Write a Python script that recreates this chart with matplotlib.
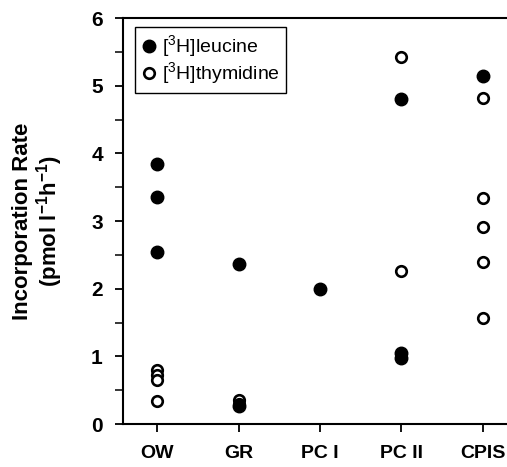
import matplotlib
matplotlib.use("Agg")
import matplotlib.pyplot as plt
from matplotlib.ticker import MultipleLocator

plt.rcParams["font.family"] = ["Liberation Sans", "DejaVu Sans"]
plt.rcParams["mathtext.fontset"] = "custom"
plt.rcParams["mathtext.rm"] = "Liberation Sans"
plt.rcParams["mathtext.bf"] = "Liberation Sans:bold"

sites = ["OW", "GR", "PC I", "PC II", "CPIS"]

# values per site
leucine = {
    "OW": [3.84, 3.35, 2.54],
    "GR": [2.36, 0.26],
    "PC I": [2.0],
    "PC II": [4.80, 1.05, 0.98],
    "CPIS": [5.15],
}
thymidine = {
    "OW": [0.80, 0.72, 0.65, 0.34],
    "GR": [0.35, 0.30],
    "PC I": [],
    "PC II": [5.43, 2.26],
    "CPIS": [4.82, 3.34, 2.91, 2.40, 1.57],
}

fig = plt.figure(figsize=(5.07, 4.67), dpi=100)
ax = fig.add_axes([0.2426, 0.092, 0.7574, 0.869])

for i, s in enumerate(sites):
    ys = leucine[s]
    ax.plot([i] * len(ys), ys, "o", ms=9.0, mfc="black", mec="black",
            ls="none", label="[$^3$H]leucine" if i == 0 else None, zorder=3)
for i, s in enumerate(sites):
    ys = thymidine[s]
    ax.plot([i] * len(ys), ys, "o", ms=7.6, mfc="white", mec="black", mew=1.9,
            ls="none", label="[$^3$H]thymidine" if i == 0 else None, zorder=2)

ax.set_xlim(-0.42, 4.3)
ax.set_ylim(0, 6)
ax.set_xticks(range(len(sites)))
ax.set_xticklabels(sites, fontsize=14, fontweight="bold")
ax.yaxis.set_major_locator(MultipleLocator(1))
ax.yaxis.set_minor_locator(MultipleLocator(0.5))
for lab in ax.get_yticklabels():
    lab.set_fontweight("bold")
    lab.set_fontsize(15)

ax.spines["right"].set_visible(False)
for sp in ("left", "bottom", "top"):
    ax.spines[sp].set_linewidth(1.5)
ax.tick_params(axis="y", which="major", direction="out", length=6, width=1.3, pad=8.5)
ax.tick_params(axis="y", which="minor", direction="out", length=6, width=1.1)
ax.tick_params(axis="x", direction="out", length=6, width=1.3, pad=9)

ax.set_ylabel("Incorporation Rate\n(pmol l$^{\\mathbf{-1}}$h$^{\\mathbf{-1}}$)",
              fontsize=16, fontweight="bold", linespacing=1.05)
ax.yaxis.set_label_coords(-0.15, 0.5)

leg = ax.legend(loc="upper left", bbox_to_anchor=(0.031, 0.978), borderaxespad=0,
                fontsize=14, handletextpad=0.3, handlelength=0.8, borderpad=0.3,
                labelspacing=0.05, fancybox=False, framealpha=1)
leg.get_frame().set_edgecolor("black")
leg.get_frame().set_linewidth(1.0)

fig.savefig("out.png", dpi=100)
